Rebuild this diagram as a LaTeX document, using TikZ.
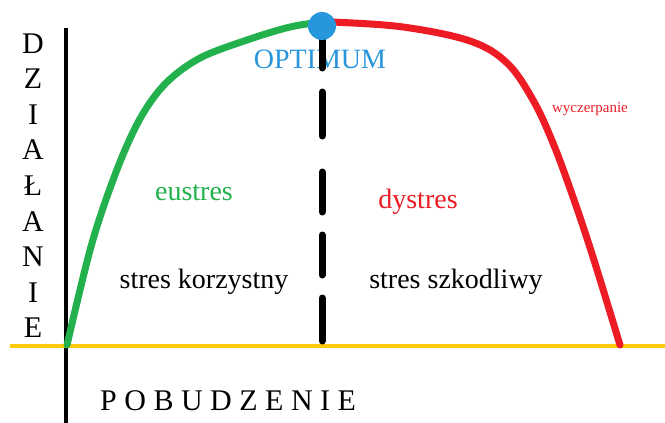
\documentclass[tikz,border=0pt]{standalone}
\usepackage{fontspec}
\setmainfont{Liberation Serif}
\usetikzlibrary{positioning}

\definecolor{paintgreen}{RGB}{34,177,76}
\definecolor{paintred}{RGB}{237,28,36}
\definecolor{paintgold}{RGB}{255,201,14}
\definecolor{paintblue}{RGB}{40,150,220}

\begin{document}
\begin{tikzpicture}[x=1pt,y=-1pt,
    curve/.style={line width=7pt,line cap=round,line join=round},
    zonetext/.style={font=\fontsize{28}{30}\selectfont,inner sep=0pt,anchor=base},
    axisletter/.style={font=\fontsize{30}{32}\selectfont,inner sep=0pt,anchor=base}]

    \useasboundingbox (0,0) rectangle (665,423);

    % Axes
    \coordinate (ytop) at (66,28);
    \coordinate (ybot) at (66,423);
    \coordinate (xleft) at (10,346);
    \coordinate (xright) at (665,346);
    \draw[line width=4pt] (ytop) -- (ybot);
    \draw[paintgold,line width=4.5pt] (xleft) -- (xright);

    % Performance curve
    \coordinate (start) at (67,345);
    \coordinate (peak) at (322,22);
    \coordinate (stop) at (620,345);
    \draw[curve,paintgreen] plot[smooth,tension=0.55] coordinates
        {(start) (92,243) (118,167) (141,117) (166,83) (200,58) (247,40) (290,27) (peak)};
    \draw[curve,paintred] plot[smooth,tension=0.6] coordinates
        {(peak) (333,22) (403,27) (470,41) (507,63) (533,100) (553,143) (573,197) (593,257) (stop)};

    % Optimum divider
    \node[zonetext,paintblue] (optimum) at (320,68) {OPTIMUM};
    \foreach \a/\b in {30/68, 92/136, 172/212, 235/275, 298/341}
        \draw[line width=7pt,line cap=round] (322,\a) -- (322,\b);
    \fill[paintblue] (peak) ++(0,4) circle (14pt);

    % Labels
    \node[zonetext,paintgreen] (eustres) at (194,200) {eustres};
    \node[zonetext] (korzystny) at (204,288) {stres korzystny};
    \node[zonetext,paintred] (dystres) at (418,208) {dystres};
    \node[zonetext] (szkodliwy) at (456,288) {stres szkodliwy};
    \node[zonetext,paintred,font=\fontsize{15}{17}\selectfont] (wyczerpanie) at (590,112) {wyczerpanie};

    % Axis titles
    \foreach \ch [count=\i from 0] in {D,Z,I,A,Ł,A,N,I,E}
        \node[axisletter] (dz\i) at (33,53+35.6*\i) {\ch};
    \node[axisletter,anchor=base west] (pobudzenie) at (100,410) {P O B U D Z E N I E};
\end{tikzpicture}
\end{document}
